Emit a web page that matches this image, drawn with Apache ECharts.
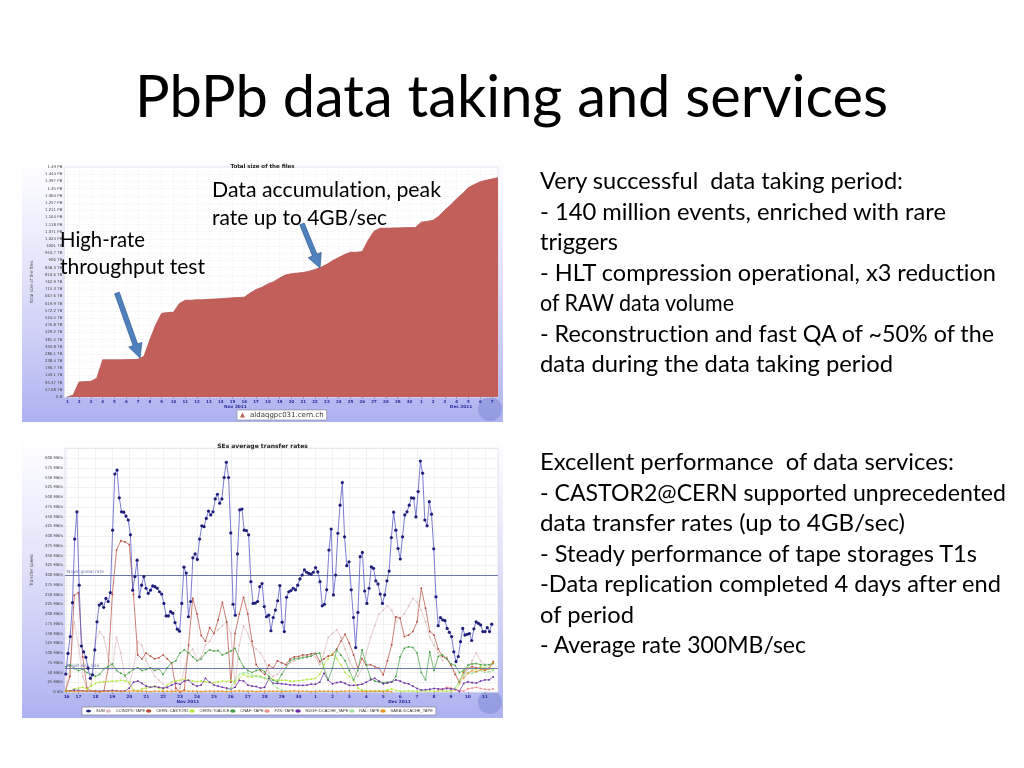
<!DOCTYPE html>
<html>
<head>
<meta charset="utf-8">
<title>PbPb data taking and services</title>
<script src="https://cdn.jsdelivr.net/npm/echarts@6.0.0/dist/echarts.min.js"></script>
<style>
html,body{margin:0;padding:0;width:1024px;height:768px;overflow:hidden;background:#fff;}
.chart{position:absolute;background:linear-gradient(to bottom,#ffffff 0%,#fbfbff 8%,#e2e2fa 45%,#c2c5f4 80%,#acb1f0 100%);}
#c1{left:22px;top:157px;width:481px;height:265px;}
#c2{left:22px;top:435px;width:481px;height:283px;}
#ov{position:absolute;left:0;top:0;width:1024px;height:768px;pointer-events:none;}
#ov text{font-variant-ligatures:none;font-feature-settings:"liga" 0,"clig" 0;}
</style>
</head>
<body>
<div id="c1" class="chart"></div>
<div id="c2" class="chart"></div>
<svg id="ov" xmlns="http://www.w3.org/2000/svg" width="1024" height="768"></svg>
<script>
// ---------------- DATA: Total size of the files ----------------
const topTickDays = [1,2,3,4,5,6,7,8,9,10,11,12,13,14,15,16,17,18,19,20,21,22,23,24,25,26,27,28,29,30,31,32,33,34,35,36,37];
const topTickLabels = ['1','2','3','4','5','6','7','8','9','10','11','12','13','14','15','16','17','18','19','20','21','22','23','24','25','26','27','28','29','30','1','2','3','4','5','6','7'];
const topYLabels = ['0 B','47.68 TB','95.37 TB','143.1 TB','190.7 TB','238.4 TB','286.1 TB','333.8 TB','381.5 TB','429.2 TB','476.8 TB','524.5 TB','572.2 TB','619.9 TB','667.6 TB','715.3 TB','762.9 TB','810.6 TB','858.3 TB','906 TB','953.7 TB','1001 TB','1.024 PB','1.071 PB','1.118 PB','1.164 PB','1.211 PB','1.257 PB','1.304 PB','1.35 PB','1.397 PB','1.444 PB','1.49 PB'];
const topYStepTB = 47.6837;
const topStartDay = 1, topStepDay = 0.5;
const topSizeTB = [0,13,100,102,104,125,247,247,247,247,248,248,250,270,380,480,555,560,562,620,642,642,645,645,648,650,652,655,658,660,662,690,713,728,750,765,790,810,818,822,826,835,846,860,880,905,926,945,960,960,965,1040,1100,1120,1120,1121,1122,1123,1124,1125,1160,1165,1172,1200,1240,1275,1315,1350,1390,1410,1428,1438,1447,1455];
const topSeriesName = 'aldaqgpc031.cern.ch';

// ---------------- DATA: SEs average transfer rates ----------------
const rateTickPos = [0.3,1,2,3,4,5,6,7,8,9,10,11,12,13,14,15,16,17,18,19,20,21,22,23,24,25];
const rateTickLabels = ['16','17','18','19','20','21','22','23','24','25','26','27','28','29','30','1','2','3','4','5','6','7','8','9','10','11'];
const targetRates = [300, 60];
const targetNames = ['Target global rate', 'Target disk rate'];
const sumStart = 0.25, sumStep = 0.13173;
const sumRate = [46,99,142,229,392,462,274,118,103,89,61,35,44,108,180,223,227,217,240,232,255,415,559,569,498,462,461,451,441,403,
261,296,338,244,274,296,266,253,261,272,270,266,257,251,227,195,195,206,202,178,161,156,227,
320,305,193,232,344,354,340,392,426,424,445,464,454,462,495,507,484,495,550,589,550,408,225,197,354,467,469,415,414,403,283,227,228,232,270,278,219,
193,197,157,191,210,234,273,179,155,243,257,260,266,262,274,290,300,313,307,304,302,307,319,308,283,221,225,262,364,418,249,300,407,479,537,398,324,334,262,191,114,204,347,358,259,227,266,321,317,285,277,251,227,249,285,310,396,461,415,368,341,398,454,462,479,498,497,449,514,592,561,441,426,488,456,367,244,170,191,185,183,163,153,142,103,78,91,129,163,146,148,150,132,162,180,176,172,155,155,165,155,174];
const siteStart = 0.25, siteStep = 0.25;
const ccin2p3 = [10,60,180,120,40,5,20,130,155,140, 90,60,140,100,40,20,60,130,120,80, 60,40,30,20,10,5,5,10,60,100, 110,80,90,120,130,150,160,170,180,150, 20,120,170,150,120,110,100,80,50,40, 45,60,70,75,80,85,90,88,95,90, 70,100,140,150,160,140,110,80,60,40, 60,100,140,170,200,210,220,210,180,190, 200,220,240,230,210,180,140,120,100,80, 90,70,50,20,40,60,80,100,80,70, 60,60];
const castor2 = [5,40,248,255,90,10,2,2,0,2, 60,250,364,388,385,378,250,95,85,100, 92,85,88,95,85,75,10,0,5,120, 240,200,145,130,165,150,185,230,180,25, 150,200,243,200,130,70,55,45,69,61, 80,75,70,85,90,91,95,95,98,99, 78,85,92,95,110,130,148,125,95,61, 86,69,70,65,61,44,80,121,193,189, 142,146,155,180,266,215,155,146,110,91, 86,69,45,26,50,61,65,62,61,56, 61,78];
const t0alice = [5,3,8,10,12,8,15,22,25,26, 27,28,28,30,29,25,5,3,8,10, 12,15,10,5,18,25,28,30,32,30, 28,27,28,26,25,24,26,28,27,30, 25,35,45,40,38,42,40,35,35,32, 30,30,30,28,28,29,30,32,33,35, 45,70,85,99,86,70,50,40,30,10, 5,3,2,2,3,2,5,8,4,2, 2,3,2,2,3,2,3,2,2,3, 2,3,5,20,55,62,60,58,65,62, 60,58];
const cnaf = [65,70,60,55,58,50,45,40,45,60, 65,72,55,48,42,50,58,62,55,58, 62,55,60,45,62,75,80,100,108,100, 90,80,85,100,108,105,106,95,100,105, 112,85,65,55,50,55,58,52,40,30, 26,45,61,80,85,86,88,90,92,98, 100,60,31,61,108,95,80,55,31,55, 108,70,35,28,26,24,25,26,40,90, 112,116,114,100,50,31,103,55,91,95, 85,72,68,50,55,69,72,73,70,69, 70,73];
const fzkStart = 22.25;
const fzk = [5,8,12,10,6,4,2,8,10,12,9,7,6,8];
const ndgf = [2,3,5,4,3,2,2,3,2,3, 3,4,3,2,3,10,25,28,22,15, 12,14,12,10,12,18,22,20,28,30, 20,15,18,35,25,18,15,12,10,8, 12,30,28,18,15,14,10,12,35,22, 22,21,20,18,18,17,17,18,20,20, 25,48,30,21,24,26,22,17,17,18, 20,25,31,35,28,21,23,26,31,28, 23,21,15,9,5,6,7,9,8,7, 9,8,8,1,22,26,24,23,28,31, 31,39];
const ralStart = 9.75;
const ral = [5,10,30,45,50,48,42,40,38,36,30,20,10,5,2,1,
null,null,null,null,null,null,null,null,null,null,null,null,null,null,null,null,null,null,null,null,null,null,null,null,null,null,null,null,null,null,null,null,null,null,null,null,null,null,
10,30,45,50,48,52,55,50,52,55];
const sara = [2,2,1,2,2,3,2,2,1,2, 2,2,2,1,2,2,3,2,2,2, 1,2,2,2,2,1,2,2,3,2, 2,2,1,2,2,2,2,2,1,2, 2,3,2,2,2,1,2,2,2,2, 2,1,2,2,3,2,2,2,1,2, 2,2,2,2,1,2,2,3,2,2, 2,1,2,2,2,2,2,1,
null,null,null,null,null,null,null,null,null,null,null,null,null,null,null,null,
35,48,55,52,58,55,60,75];

// ---------------- helpers ----------------
function pairs(start, step, vals){ return vals.map((v,i)=>[start+i*step, v]); }
function idxOf(arr, v){ for(let i=0;i<arr.length;i++){ if(Math.abs(arr[i]-v)<1e-6) return i; } return -1; }
const F = 'DejaVu Sans';

// ---------------- Top chart ----------------
const c1 = echarts.init(document.getElementById('c1'));
c1.setOption({
  animation:false,
  title:{text:'Total size of the files', left:'center', top:2, textStyle:{fontFamily:F, fontSize:5.5, fontWeight:'bold', color:'#222'}},
  grid:{left:30, top:10, width:446, height:230, show:true, backgroundColor:'#ffffff', borderColor:'#d4d4e4', borderWidth:0.6},
  legend:{data:[topSeriesName], left:215, top:253, icon:'triangle', itemWidth:5, itemHeight:5, itemGap:2,
    textStyle:{fontFamily:F, fontSize:7, color:'#333'}, backgroundColor:'#fff', borderColor:'#888', borderWidth:0.6, padding:[1.5,3,1.5,3], borderRadius:0},
  xAxis:{type:'value', min:0.75, max:37.5,
    axisLine:{show:false},
    axisTick:{show:true, customValues:topTickDays, length:2, lineStyle:{color:'#777', width:0.5}},
    axisLabel:{customValues:topTickDays, formatter:v=>{const i=idxOf(topTickDays,v);return i>=0?topTickLabels[i]:'';}, fontFamily:F, fontSize:4, fontWeight:'bold', color:'#2a2a9a', margin:3},
    splitLine:{show:true, lineStyle:{color:'#ececf2', width:0.5, type:'dashed'}}},
  yAxis:{type:'value', min:0, max:topYStepTB*32, interval:topYStepTB,
    axisLine:{show:false}, axisTick:{show:false},
    axisLabel:{formatter:v=>topYLabels[Math.round(v/topYStepTB)]||'', fontFamily:F, fontSize:3.9, color:'#444', margin:2},
    splitLine:{show:true, lineStyle:{color:'#ececf2', width:0.5, type:'dashed'}},
    name:'Total size of the files', nameLocation:'middle', nameGap:22, nameTextStyle:{fontFamily:F, fontSize:4.2, color:'#444'}},
  series:[{type:'line', name:topSeriesName, data:pairs(topStartDay, topStepDay, topSizeTB), symbol:'none',
    itemStyle:{color:'#c25f5b'}, lineStyle:{color:'#b55450', width:0.8}, areaStyle:{color:'#c25f5b', opacity:1}}]
});
(function(){
  const pNov = c1.convertToPixel({gridIndex:0}, [15.25, 0]);
  const pDec = c1.convertToPixel({gridIndex:0}, [34.37, 0]);
  c1.setOption({graphic:[
    {type:'text', x:pNov[0], y:250, style:{text:'Nov 2011', fontFamily:F, fontSize:4.3, fontWeight:'bold', fill:'#2a2a9a', align:'center', verticalAlign:'middle'}},
    {type:'text', x:pDec[0], y:250, style:{text:'Dec 2011', fontFamily:F, fontSize:4.3, fontWeight:'bold', fill:'#2a2a9a', align:'center', verticalAlign:'middle'}},
    {type:'circle', shape:{cx:468, cy:252, r:12}, style:{fill:'rgba(128,136,214,0.55)'}, z:-1}
  ]});
})();

// ---------------- Bottom chart ----------------
const siteDefs = [
  {name:'CCIN2P3::TAPE', vals:ccin2p3, start:siteStart, color:'#dcbcbc'},
  {name:'CERN::CASTOR2', vals:castor2, start:siteStart, color:'#b8493c'},
  {name:'CERN::T0ALICE', vals:t0alice, start:siteStart, color:'#b4e63c'},
  {name:'CNAF::TAPE', vals:cnaf, start:siteStart, color:'#44a244'},
  {name:'FZK::TAPE', vals:fzk, start:fzkStart, color:'#ee8c8c'},
  {name:'NDGF::DCACHE_TAPE', vals:ndgf, start:siteStart, color:'#6a2ca2'},
  {name:'RAL::TAPE', vals:ral, start:ralStart, color:'#9ee09e'},
  {name:'SARA::DCACHE_TAPE', vals:sara, start:siteStart, color:'#e8901e'}
];
const siteSeries = siteDefs.map(s=>({
  type:'line', name:s.name, data:pairs(s.start, siteStep, s.vals), symbol:'rect', symbolSize:1.6, showAllSymbol:true,
  itemStyle:{color:s.color}, lineStyle:{color:s.color, width:0.7}, z:2
}));
const c2 = echarts.init(document.getElementById('c2'));
c2.setOption({
  animation:false,
  title:{text:'SEs average transfer rates', left:'center', top:3, textStyle:{fontFamily:F, fontSize:6, fontWeight:'bold', color:'#222'}},
  grid:{left:32, top:13.25, width:444, height:243.75, show:true, backgroundColor:'#ffffff', borderColor:'#d0d0e0', borderWidth:0.6},
  legend:{data:['SUM'].concat(siteDefs.map(s=>s.name)), left:60, top:272, itemWidth:5, itemHeight:4, itemGap:0,
    textStyle:{fontFamily:'Liberation Sans', fontSize:4, color:'#333'}, backgroundColor:'#fff', borderColor:'#777', borderWidth:0.6, padding:[2,3,2,3]},
  xAxis:{type:'value', min:0.2, max:25.78,
    axisLine:{show:false},
    axisTick:{show:true, customValues:rateTickPos, length:2, lineStyle:{color:'#777', width:0.5}},
    axisLabel:{customValues:rateTickPos, formatter:v=>{const i=idxOf(rateTickPos,v);return i>=0?rateTickLabels[i]:'';}, fontFamily:F, fontSize:4.3, fontWeight:'bold', color:'#2a2a9a', margin:2.5},
    splitLine:{show:true, lineStyle:{color:'#e4e4ea', width:0.5}}},
  yAxis:{type:'value', min:0, max:625, interval:25,
    axisLine:{show:false}, axisTick:{show:false},
    axisLabel:{formatter:v=>v===0?'0 B/s':(v>600?'':v+' MB/s'), fontFamily:F, fontSize:3.9, color:'#444', margin:2},
    splitLine:{show:true, lineStyle:{color:'#e4e4ea', width:0.5}},
    name:'Transfer speed', nameLocation:'middle', nameGap:24, nameTextStyle:{fontFamily:F, fontSize:4.3, color:'#444'}},
  series: siteSeries.concat([{
    type:'line', name:'SUM', data:pairs(sumStart, sumStep, sumRate), symbol:'circle', symbolSize:3.2, showAllSymbol:true,
    itemStyle:{color:'#1e1e78'}, lineStyle:{color:'#5a5ac6', width:0.8}, z:5,
    markLine:{silent:true, symbol:['none','none'], animation:false,
      lineStyle:{color:'#6b78a8', width:1, type:'solid'},
      label:{show:true, position:'insideStartTop', formatter:'{b}', fontFamily:F, fontSize:4.3, color:'#6b78a8', distance:1},
      data: targetRates.map((v,i)=>({name:targetNames[i], yAxis:v}))}
  }])
});
(function(){
  const pNov = c2.convertToPixel({gridIndex:0}, [7.46, 0]);
  const pDec = c2.convertToPixel({gridIndex:0}, [19.96, 0]);
  c2.setOption({graphic:[
    {type:'text', x:pNov[0], y:267, style:{text:'Nov 2011', fontFamily:F, fontSize:4.3, fontWeight:'bold', fill:'#2a2a9a', align:'center', verticalAlign:'middle'}},
    {type:'text', x:pDec[0], y:267, style:{text:'Dec 2011', fontFamily:F, fontSize:4.3, fontWeight:'bold', fill:'#2a2a9a', align:'center', verticalAlign:'middle'}},
    {type:'circle', shape:{cx:468, cy:267, r:12}, style:{fill:'rgba(128,136,214,0.55)'}, z:-1}
  ]});
})();

// ---------------- Slide text & arrows ----------------
const slideText = [
  ['PbPb data taking and services', 135, 117, 753, 58],
  ['Very successful  data taking period:', 540, 189, 363, 23],
  ['- 140 million events, enriched with rare', 540, 219.5, 406, 23],
  ['triggers', 540, 250, 78, 23],
  ['- HLT compression operational, x3 reduction', 540, 280.5, 456, 23],
  ['of RAW data volume', 540, 311, 194, 23],
  ['- Reconstruction and fast QA of ~50% of the', 540, 341.5, 454, 23],
  ['data during the data taking period', 540, 372, 353, 23],
  ['Excellent performance  of data services:', 540, 470, 414, 23],
  ['- CASTOR2@CERN supported unprecedented', 540, 500.5, 466, 23],
  ['data transfer rates (up to 4GB/sec)', 540, 531, 365, 23],
  ['- Steady performance of tape storages T1s', 540, 561.5, 437, 23],
  ['-Data replication completed 4 days after end', 540, 592, 461, 23],
  ['of period', 540, 622.5, 94, 23],
  ['- Average rate 300MB/sec', 540, 653, 266, 23],
  ['Data accumulation, peak', 212, 197, 229, 22],
  ['rate up to 4GB/sec', 212, 224.5, 175, 22],
  ['High-rate', 60, 247, 85, 22],
  ['throughput test', 60, 274, 145, 22]
];
const svg = document.getElementById('ov');
const NS = 'http://www.w3.org/2000/svg';
function arrow(x1,y1,x2,y2){
  const dx=x2-x1, dy=y2-y1, L=Math.hypot(dx,dy), ux=dx/L, uy=dy/L, nx=-uy, ny=ux;
  const hl=14, hw=7, sw=2.4;
  const bx=x2-ux*hl, by=y2-uy*hl;
  const pts=[[x1+nx*sw,y1+ny*sw],[bx+nx*sw,by+ny*sw],[bx+nx*hw,by+ny*hw],[x2,y2],[bx-nx*hw,by-ny*hw],[bx-nx*sw,by-ny*sw],[x1-nx*sw,y1-ny*sw]];
  const p=document.createElementNS(NS,'polygon');
  p.setAttribute('points', pts.map(q=>q[0].toFixed(1)+','+q[1].toFixed(1)).join(' '));
  p.setAttribute('fill','#4f81bd'); p.setAttribute('stroke','#3a639a'); p.setAttribute('stroke-width','0.8');
  svg.appendChild(p);
}
arrow(117,293,140,358);
arrow(302,224,320,268);
slideText.forEach(t=>{
  const e=document.createElementNS(NS,'text');
  e.setAttribute('x',t[1]); e.setAttribute('y',t[2]);
  e.setAttribute('font-size',t[4]); e.setAttribute('font-family','Lato, "Open Sans", sans-serif');
  e.setAttribute('fill','#000'); e.setAttribute('textLength',t[3]); e.setAttribute('lengthAdjust','spacingAndGlyphs');
  e.setAttribute('style','white-space:pre;font-variant-ligatures:none');
  e.textContent=t[0];
  svg.appendChild(e);
});
</script>
</body>
</html>
